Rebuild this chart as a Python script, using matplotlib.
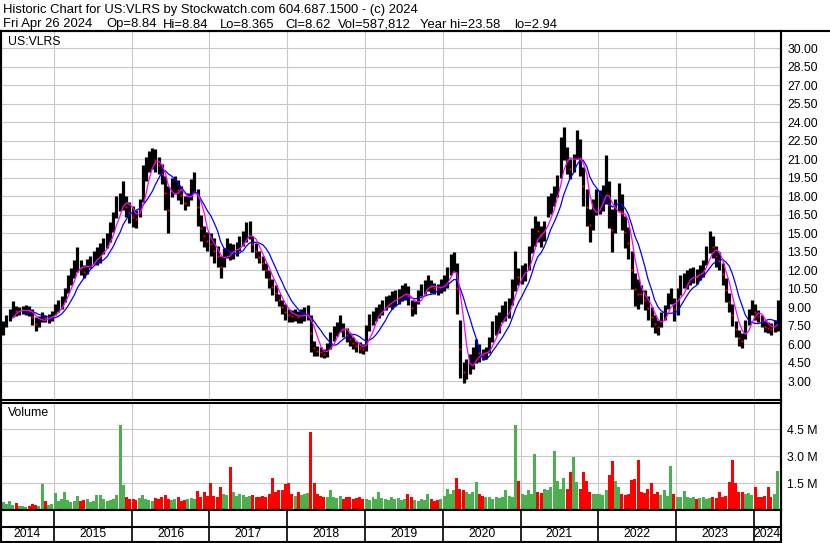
import numpy as np
import pandas as pd
import matplotlib
matplotlib.use('Agg')
import matplotlib.pyplot as plt
from matplotlib.lines import Line2D

plt.rcParams['font.family'] = ['Liberation Sans', 'DejaVu Sans']

# half-month price ranges (low / high), May 2014 - Apr 2024

lo_2014 = [6.8, 7.4, 7.9, 8.2, 8.3, 8.4, 8.5, 8.4, 8.3, 7.6, 7.1, 7.4, 7.8, 7.8, 7.7, 7.9]
hi_2014 = [7.9, 8.4, 8.9, 9.5, 9.1, 9.0, 9.1, 9.2, 9.1, 8.9, 8.2, 8.3, 8.6, 8.4, 8.5, 8.7]

lo_2015 = [8.4, 8.6, 8.9, 9.4, 10.2, 10.8, 11.4, 11.9, 11.6, 11.4, 11.7, 12.2,
           12.5, 12.4, 12.6, 13.3, 13.8, 14.3, 15.1, 16.2, 16.8, 16.9, 16.3, 15.8]
hi_2015 = [9.3, 9.6, 9.9, 10.6, 11.6, 12.2, 12.8, 13.9, 12.8, 12.4, 12.9, 13.2,
           13.6, 13.9, 14.2, 14.6, 15.0, 15.9, 16.7, 18.0, 18.3, 19.2, 18.0, 17.5]

lo_2016 = [15.5, 15.4, 16.3, 17.5, 19.2, 20.0, 20.2, 20.0, 19.8, 19.0, 16.9, 15.0,
           17.9, 18.2, 17.7, 17.4, 16.9, 17.2, 17.7, 18.3, 15.6, 14.4, 13.9, 13.6]
hi_2016 = [17.2, 16.9, 17.8, 20.5, 21.2, 21.7, 21.9, 21.8, 21.2, 20.6, 19.6, 18.8,
           19.5, 19.6, 19.3, 18.8, 18.0, 18.3, 19.4, 20.0, 18.6, 16.5, 15.6, 15.1]

lo_2017 = [13.2, 12.6, 12.3, 11.4, 12.3, 13.0, 12.8, 12.9, 13.2, 13.6, 14.0, 14.3,
           14.5, 13.5, 13.0, 12.6, 12.0, 11.4, 10.6, 10.0, 9.5, 9.1, 8.5, 8.0]
hi_2017 = [15.0, 14.6, 14.0, 13.2, 13.8, 14.6, 14.2, 14.1, 14.3, 14.8, 15.2, 15.9,
           16.0, 14.8, 14.2, 13.6, 13.2, 12.6, 12.0, 11.3, 10.8, 10.1, 9.6, 9.3]

lo_2018 = [7.8, 7.8, 7.9, 7.7, 7.7, 7.9, 8.0, 5.4, 5.1, 5.1, 5.0, 4.9,
           5.0, 5.6, 6.3, 6.7, 7.0, 6.6, 6.2, 5.9, 5.6, 5.4, 5.3, 5.2]
hi_2018 = [8.9, 8.8, 8.9, 8.7, 8.9, 9.0, 9.2, 8.4, 6.3, 5.9, 5.8, 5.6,
           6.1, 7.0, 7.5, 7.8, 8.4, 7.7, 7.3, 6.9, 6.6, 6.3, 6.2, 6.0]

lo_2019 = [5.5, 7.1, 7.6, 7.9, 8.1, 8.4, 8.8, 9.0, 8.9, 9.1, 9.3, 9.5,
           9.6, 9.2, 8.3, 8.5, 9.3, 9.9, 10.1, 10.3, 10.2, 10.1, 10.0, 10.2]
hi_2019 = [7.6, 8.5, 8.7, 9.0, 9.3, 9.6, 9.9, 10.0, 10.3, 10.4, 10.5, 10.8,
           11.0, 10.7, 9.6, 9.5, 10.4, 10.9, 11.2, 11.6, 11.2, 11.0, 10.9, 11.3]

lo_2020 = [10.3, 10.6, 11.6, 11.9, 8.5, 3.3, 2.9, 3.2, 3.6, 4.0, 4.5, 4.6,
           4.7, 4.8, 5.3, 6.2, 6.8, 6.9, 7.8, 7.9, 8.1, 9.2, 10.3, 10.8]
hi_2020 = [11.6, 12.3, 13.3, 13.5, 12.6, 8.0, 4.6, 4.8, 5.2, 5.8, 6.4, 6.0,
           5.6, 5.8, 6.6, 7.9, 8.4, 8.6, 9.2, 9.5, 9.8, 11.3, 13.6, 12.2]

lo_2021 = [10.9, 11.1, 12.0, 13.4, 14.0, 14.3, 13.9, 14.4, 16.3, 16.6, 17.2, 17.9,
           19.5, 20.9, 19.8, 19.4, 20.0, 21.0, 19.6, 17.2, 15.6, 14.3, 15.3, 16.5]
hi_2021 = [12.4, 12.6, 14.0, 15.4, 16.4, 16.0, 15.6, 16.0, 18.0, 18.3, 18.8, 19.7,
           22.8, 23.6, 22.0, 21.0, 21.4, 23.4, 22.6, 20.4, 18.6, 17.0, 17.8, 18.6]

lo_2022 = [16.6, 16.8, 17.4, 15.4, 13.5, 15.0, 16.8, 15.3, 13.8, 12.9, 10.5, 9.1,
           8.9, 9.3, 8.8, 8.0, 7.4, 6.9, 6.8, 7.4, 8.0, 8.9, 9.3, 7.9]
hi_2022 = [18.5, 18.9, 21.3, 19.2, 17.0, 17.8, 19.1, 18.2, 16.4, 15.5, 13.6, 11.8,
           11.3, 10.8, 10.4, 9.9, 9.0, 8.4, 8.0, 8.6, 9.2, 10.2, 10.6, 9.8]

lo_2023 = [8.4, 10.0, 10.6, 10.5, 10.8, 11.0, 10.9, 11.2, 11.5, 12.4, 13.4, 13.0,
           12.3, 12.0, 10.8, 9.4, 8.6, 7.5, 6.6, 5.9, 5.7, 6.4, 7.6, 8.4]
hi_2023 = [10.6, 11.6, 11.8, 12.0, 12.2, 12.3, 12.1, 12.4, 12.8, 14.0, 15.2, 14.8,
           14.0, 13.5, 12.6, 11.4, 10.2, 9.3, 7.9, 7.2, 6.9, 8.0, 8.9, 9.6]

lo_2024 = [8.0, 7.8, 7.4, 7.0, 6.9, 6.8, 7.0, 7.1]
hi_2024 = [9.3, 8.8, 8.4, 7.9, 7.8, 7.7, 8.0, 9.6]

# half-month peak volume, millions

vol_2014 = [0.45, 0.35, 0.5, 0.3, 0.4, 0.25, 0.2, 0.15, 0.2, 0.35, 0.3, 0.25, 1.45, 0.5, 0.3, 0.35]
vol_2015 = [0.95, 0.5, 0.6, 1.0, 0.55, 0.45, 0.5, 0.8, 0.5, 0.55, 0.6, 0.45,
            0.5, 0.85, 0.85, 0.6, 0.5, 0.55, 0.6, 0.85, 4.75, 1.4, 0.7, 0.6]
vol_2016 = [0.6, 0.55, 0.65, 0.85, 0.6, 0.55, 0.5, 0.65, 0.6, 0.7, 0.85, 0.6,
            0.55, 0.6, 0.7, 0.5, 0.55, 0.6, 0.65, 0.6, 1.05, 0.75, 1.0, 0.8]
vol_2017 = [1.5, 0.8, 0.7, 1.3, 0.9, 0.85, 2.4, 1.0, 0.8, 0.9, 0.85, 0.7,
            0.8, 0.85, 0.7, 0.75, 0.8, 0.7, 0.9, 1.8, 1.0, 1.1, 1.1, 1.45]
vol_2018 = [1.5, 0.9, 0.8, 1.0, 0.85, 0.9, 0.95, 4.36, 1.5, 0.9, 0.8, 0.7,
            0.75, 1.1, 0.7, 0.65, 0.8, 0.6, 0.7, 0.75, 0.6, 0.65, 0.7, 0.6]
vol_2019 = [0.6, 0.55, 0.7, 0.6, 1.0, 0.65, 0.6, 0.55, 0.7, 0.6, 0.65, 0.55,
            0.6, 0.9, 0.7, 0.55, 0.5, 0.6, 0.55, 0.9, 0.6, 0.5, 0.55, 0.6]
vol_2020 = [0.8, 1.2, 0.9, 1.1, 1.8, 1.2, 1.1, 1.0, 0.9, 1.0, 1.55, 0.9,
            0.8, 0.7, 0.75, 0.6, 0.7, 0.65, 0.75, 1.1, 0.8, 0.7, 4.75, 1.6]
vol_2021 = [0.9, 0.85, 1.1, 0.9, 3.15, 1.0, 0.95, 1.2, 1.1, 1.3, 3.3, 1.6,
            1.2, 1.8, 1.2, 2.14, 2.96, 1.55, 1.2, 2.14, 1.6, 1.0, 0.9, 0.9]
vol_2022 = [0.9, 0.85, 1.1, 1.95, 2.75, 1.6, 1.3, 0.9, 0.85, 0.9, 1.65, 1.75,
            2.8, 1.0, 0.95, 1.2, 1.5, 0.9, 1.0, 0.85, 1.1, 0.8, 2.46, 0.9]
vol_2023 = [0.7, 0.75, 1.05, 0.7, 0.65, 0.7, 0.6, 0.65, 0.7, 0.6, 0.65, 0.7,
            0.65, 1.0, 0.75, 0.8, 1.55, 2.8, 1.5, 1.0, 1.0, 0.9, 0.95, 0.85]
vol_2024 = [1.3, 0.7, 0.75, 0.8, 1.3, 0.7, 0.9, 2.2]

price_ticks = np.arange(3, 30.01, 1.5)
vol_ticks = [1.5, 3.0, 4.5]
years = list(range(2014, 2025))

header1 = 'Historic Chart for US:VLRS by Stockwatch.com 604.687.1500 - (c) 2024'
# second header line: (text, left pixel)
header2 = [('Fri Apr 26 2024', 3), ('Op=8.84', 106), ('Hi=8.84', 163), ('Lo=8.365', 220),
           ('Cl=8.62', 285), ('Vol=587,812', 338), ('Year hi=23.58', 420), ('lo=2.94', 514)]

lo = np.array(lo_2014 + lo_2015 + lo_2016 + lo_2017 + lo_2018 + lo_2019 +
              lo_2020 + lo_2021 + lo_2022 + lo_2023 + lo_2024)
hi = np.array(hi_2014 + hi_2015 + hi_2016 + hi_2017 + hi_2018 + hi_2019 +
              hi_2020 + hi_2021 + hi_2022 + hi_2023 + hi_2024)
vol = np.array(vol_2014 + vol_2015 + vol_2016 + vol_2017 + vol_2018 + vol_2019 +
               vol_2020 + vol_2021 + vol_2022 + vol_2023 + vol_2024)

dates = pd.date_range('2014-05-01', periods=len(lo), freq='SMS') + pd.Timedelta(days=7)
mid = (lo + hi) / 2
ma_short = pd.Series(mid).rolling(4).mean()
ma_long = pd.Series(mid).rolling(8).mean()
down = np.diff(mid, prepend=mid[0]) < 0

x_left = pd.Timestamp('2014-04-28')
x_right = pd.Timestamp('2024-05-08')
bounds = [pd.Timestamp(f'{y}-01-01') for y in years[1:]]

W, H = 830, 543
fig = plt.figure(figsize=(W / 100, H / 100), dpi=100)


def box(x0, y0, x1, y1):
    return [x0 / W, 1 - y1 / H, (x1 - x0) / W, (y1 - y0) / H]


ax = fig.add_axes(box(1, 31, 781, 400))
axv = fig.add_axes(box(1, 403, 781, 510))
axd = fig.add_axes(box(1, 510, 781, 542))

# price panel

ax.vlines(dates, lo, hi, color='black', lw=2.3, zorder=2)
ax.plot(dates[down], mid[down], ls='none', marker='s', ms=1.4, mew=0, color='red', zorder=3)
ax.plot(dates, ma_long, color='#0000ff', lw=0.9, zorder=4)
ax.plot(dates, ma_short, color='#ff00ff', lw=0.9, zorder=5)

ax.set_xlim(x_left, x_right)
ax.set_ylim(1.5, 31.38)
ax.set_xticks(bounds)
ax.set_yticks(price_ticks)
ax.set_yticklabels([f'{v:.2f}' for v in price_ticks])
ax.grid(True, color='#c8c8c8', lw=0.8)
ax.set_axisbelow(True)
ax.tick_params(axis='x', length=0, labelbottom=False)
ax.tick_params(axis='y', length=0, left=False, labelleft=False, labelright=True,
               pad=4.5, labelsize=8.8)

# volume panel

bar_colors = np.where(down, '#ff0000', '#4caf50')
axv.bar(dates, vol, width=14, color=bar_colors, zorder=2)
axv.set_xlim(x_left, x_right)
axv.set_ylim(0, 5.98)
axv.set_xticks(bounds)
axv.set_yticks(vol_ticks)
axv.set_yticklabels([f'{v:.1f} M' for v in vol_ticks])
axv.grid(True, color='#c8c8c8', lw=0.8)
axv.set_axisbelow(True)
axv.tick_params(axis='x', length=0, labelbottom=False)
axv.tick_params(axis='y', length=0, left=False, labelleft=False, labelright=True,
                pad=4.5, labelsize=8.8)

# date strip

axd.set_xlim(x_left, x_right)
axd.set_ylim(0, 1)
axd.set_xticks([])
axd.set_yticks([])
axd.axhline(0.48, color='black', lw=1.5)
axd.vlines(bounds, 0, 1, color='black', lw=1.2)
edges = [x_left] + bounds + [x_right]
for k, y in enumerate(years):
    axd.text(edges[k] + (edges[k + 1] - edges[k]) / 2, 0.24, str(y),
             ha='center', va='center', fontsize=8.8)

for a in (ax, axv, axd):
    for s in a.spines.values():
        s.set_color('black')
        s.set_linewidth(1.5)

fig.text(8 / W, 1 - 42 / H, 'US:VLRS', fontsize=8.8, va='center')
fig.text(8 / W, 1 - 413 / H, 'Volume', fontsize=8.8, va='center')
fig.text(3 / W, 1 - 10 / H, header1, fontsize=9.4, va='center')
for txt, px in header2:
    fig.text(px / W, 1 - 24.5 / H, txt, fontsize=9.4, va='center')

fig.add_artist(Line2D([0, 1], [1 - 30.5 / H, 1 - 30.5 / H], transform=fig.transFigure,
                      color='black', lw=1.5))
fig.add_artist(Line2D([781 / W, 781 / W], [1 - 30.5 / H, 0], transform=fig.transFigure,
                      color='black', lw=1.5))
fig.add_artist(Line2D([1 / W, 1 / W], [1 - 30.5 / H, 0], transform=fig.transFigure,
                      color='black', lw=1.5))

fig.savefig('out.png', dpi=100, facecolor='white')
